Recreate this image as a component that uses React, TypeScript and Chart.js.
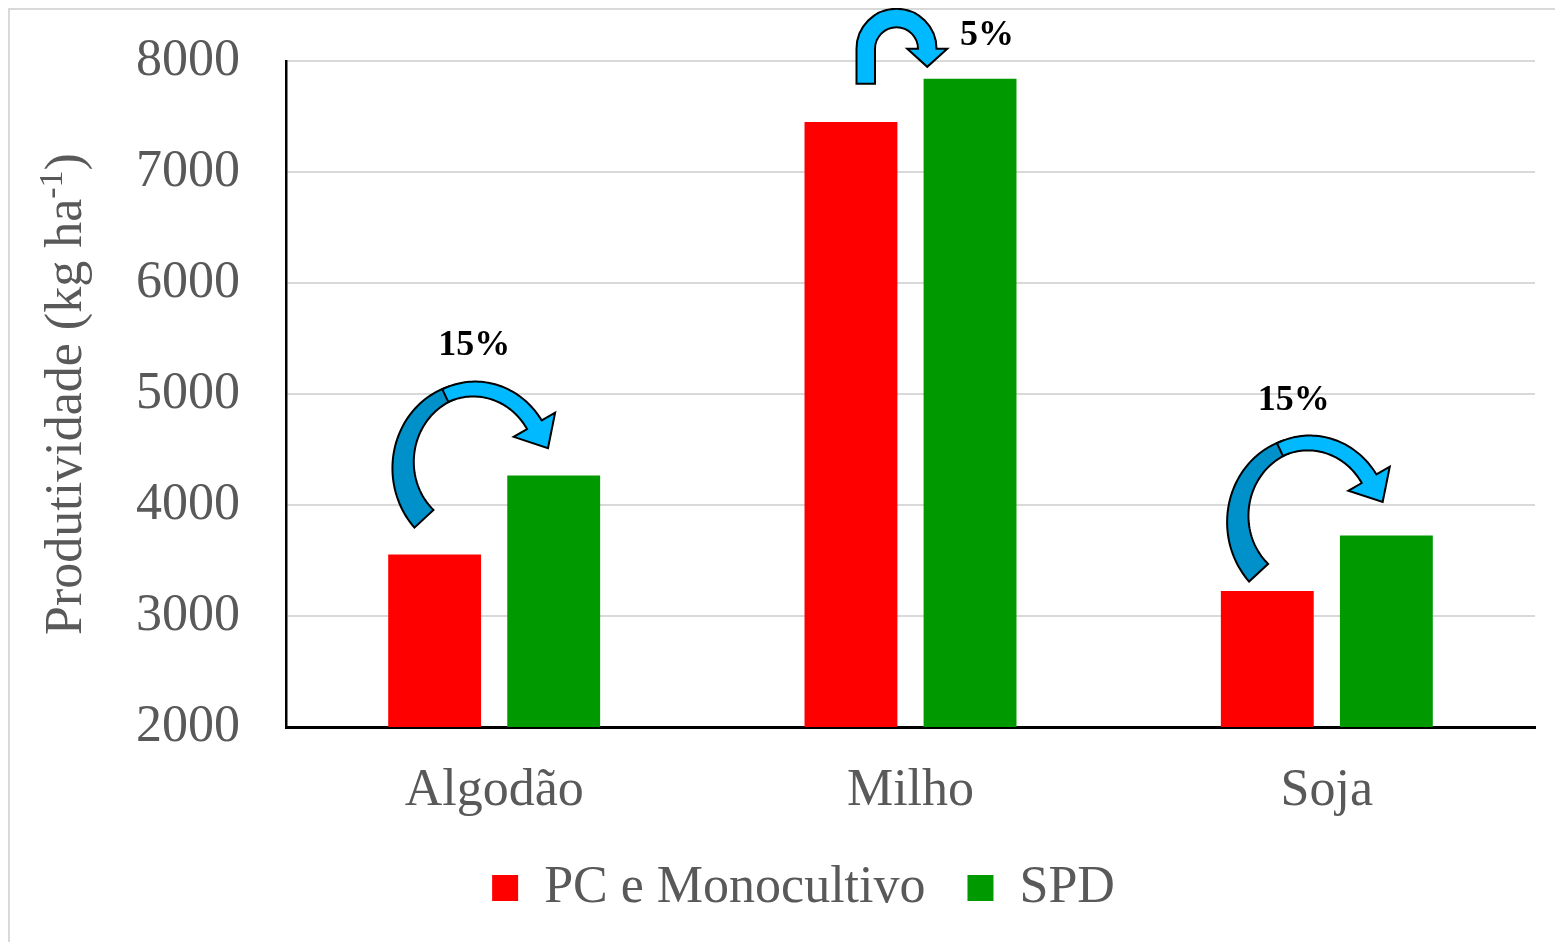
import React, { useEffect, useRef } from 'react';
import { Chart, registerables } from 'chart.js';

Chart.register(...registerables);

// ---- data ----
const categories = ['Algodão', 'Milho', 'Soja'];
const seriesNames = ['PC e Monocultivo', 'SPD'];
const pcMonocultivo = [3555, 7450, 3225];
const spd = [4265, 7840, 3725];
const yMin = 2000;
const yMax = 8000;
const yStep = 1000;
const gainLabels = ['15%', '5%', '15%'];
const yTitleMain = 'Produtividade (kg ha';
const yTitleSup = '-1';
const yTitleEnd = ')';

const FONT = "'Times New Roman', 'Liberation Serif', serif";
const GREY = '#595959';
const LIGHT_BLUE = '#00B9FF';
const DARK_BLUE = '#0090CA';
const deg = Math.PI / 180;

type P = { x: number; y: number };

function drawCurvedArrow(ctx: CanvasRenderingContext2D, cx: number, cy: number) {
  const rx = 71, ry = 76;
  const a0 = 135 * deg, am = 246 * deg, a1 = 328 * deg;
  const pt = (a: number): P => ({ x: cx + rx * Math.cos(a), y: cy + ry * Math.sin(a) });
  const nrm = (a: number): P => {
    const nx = Math.cos(a) / rx, ny = Math.sin(a) / ry;
    const l = Math.hypot(nx, ny);
    return { x: nx / l, y: ny / l };
  };
  const tan = (a: number): P => {
    const tx = -rx * Math.sin(a), ty = ry * Math.cos(a);
    const l = Math.hypot(tx, ty);
    return { x: tx / l, y: ty / l };
  };
  const band = (from: number, to: number, w0: number, w1: number) => {
    const outer: P[] = [], inner: P[] = [];
    const N = 48;
    for (let i = 0; i <= N; i++) {
      const a = from + ((to - from) * i) / N;
      const w = w0 + ((w1 - w0) * i) / N;
      const p = pt(a), n = nrm(a);
      outer.push({ x: p.x + (n.x * w) / 2, y: p.y + (n.y * w) / 2 });
      inner.push({ x: p.x - (n.x * w) / 2, y: p.y - (n.y * w) / 2 });
    }
    return { outer, inner };
  };
  ctx.save();
  ctx.lineWidth = 2;
  ctx.strokeStyle = '#000';
  ctx.lineJoin = 'miter';
  const d = band(a0, am + 5 * deg, 26, 14);
  ctx.beginPath();
  d.outer.forEach((p, i) => (i ? ctx.lineTo(p.x, p.y) : ctx.moveTo(p.x, p.y)));
  for (let i = d.inner.length - 1; i >= 0; i--) ctx.lineTo(d.inner[i].x, d.inner[i].y);
  ctx.closePath();
  ctx.fillStyle = DARK_BLUE;
  ctx.fill();
  ctx.stroke();
  const l = band(am, a1, 14, 17);
  const base = pt(a1), t = tan(a1), n = nrm(a1);
  const hw = 24, hl = 27;
  ctx.beginPath();
  l.outer.forEach((p, i) => (i ? ctx.lineTo(p.x, p.y) : ctx.moveTo(p.x, p.y)));
  ctx.lineTo(base.x + n.x * hw, base.y + n.y * hw);
  ctx.lineTo(base.x + t.x * hl, base.y + t.y * hl);
  ctx.lineTo(base.x - n.x * hw, base.y - n.y * hw);
  for (let i = l.inner.length - 1; i >= 0; i--) ctx.lineTo(l.inner[i].x, l.inner[i].y);
  ctx.closePath();
  ctx.fillStyle = LIGHT_BLUE;
  ctx.fill();
  ctx.stroke();
  ctx.restore();
}

function drawUTurn(ctx: CanvasRenderingContext2D, cx: number, cy: number) {
  const ro = 40, ri = 21.5;
  const legBottom = cy + 35;
  const hx = cx + (ro + ri) / 2;
  ctx.save();
  ctx.lineWidth = 2;
  ctx.strokeStyle = '#000';
  ctx.fillStyle = LIGHT_BLUE;
  ctx.beginPath();
  ctx.moveTo(cx - ro, legBottom);
  ctx.lineTo(cx - ro, cy);
  ctx.arc(cx, cy, ro, Math.PI, 2 * Math.PI, false);
  ctx.lineTo(hx + 20, cy);
  ctx.lineTo(hx, cy + 18);
  ctx.lineTo(hx - 20, cy);
  ctx.lineTo(cx + ri, cy);
  ctx.arc(cx, cy, ri, 0, Math.PI, true);
  ctx.lineTo(cx - ri, legBottom);
  ctx.closePath();
  ctx.fill();
  ctx.stroke();
  ctx.restore();
}

const annotationPlugin = {
  id: 'gainArrows',
  beforeDraw(chart: any) {
    const { ctx } = chart;
    ctx.save();
    ctx.strokeStyle = '#D9D9D9';
    ctx.lineWidth = 2;
    ctx.beginPath();
    ctx.moveTo(1, chart.height);
    ctx.lineTo(1, 1);
    ctx.lineTo(chart.width, 1);
    ctx.stroke();
    ctx.restore();
  },
  afterDatasetsDraw(chart: any) {
    const { ctx } = chart;
    const xs = chart.scales.x;
    const ys = chart.scales.y;
    const specs = [
      { kind: 'curve', dx: -20, yv: 4360, lx: -20, lyv: 5432 },
      { kind: 'uturn', dx: -14, yv: 8110, lx: 76.5, lyv: 8225 },
      { kind: 'curve', dx: -18, yv: 3874, lx: -33, lyv: 4937 },
    ];
    specs.forEach((s, i) => {
      const c = xs.getPixelForValue(i);
      const ax = c + s.dx;
      const ay = ys.getPixelForValue(s.yv);
      if (s.kind === 'curve') drawCurvedArrow(ctx, ax, ay);
      else drawUTurn(ctx, ax, ay);
      ctx.save();
      ctx.font = `bold 36px ${FONT}`;
      ctx.fillStyle = '#000';
      ctx.textAlign = 'center';
      ctx.textBaseline = 'middle';
      ctx.fillText(gainLabels[i], c + s.lx, ys.getPixelForValue(s.lyv));
      ctx.restore();
    });
  },
  afterDraw(chart: any) {
    const { ctx, chartArea } = chart;
    const cy = (chartArea.top + chartArea.bottom) / 2;
    const big = `52px ${FONT}`;
    const small = `34px ${FONT}`;
    ctx.save();
    ctx.font = big;
    const w1 = ctx.measureText(yTitleMain).width;
    const w3 = ctx.measureText(yTitleEnd).width;
    ctx.font = small;
    const w2 = ctx.measureText(yTitleSup).width;
    const total = w1 + w2 + w3;
    ctx.translate(73, cy);
    ctx.rotate(-Math.PI / 2);
    ctx.fillStyle = GREY;
    ctx.textAlign = 'left';
    ctx.textBaseline = 'alphabetic';
    let x = -total / 2;
    ctx.font = big;
    ctx.fillText(yTitleMain, x, 0);
    x += w1;
    ctx.font = small;
    ctx.fillText(yTitleSup, x, -19);
    x += w2;
    ctx.font = big;
    ctx.fillText(yTitleEnd, x, 0);
    ctx.restore();
  },
};

export default function App() {
  const ref = useRef<HTMLCanvasElement>(null);
  useEffect(() => {
    if (!ref.current) return;
    const chart = new Chart(ref.current, {
      type: 'bar',
      data: {
        labels: categories,
        datasets: [
          { label: seriesNames[0], data: pcMonocultivo, backgroundColor: '#FF0000', borderWidth: 0 },
          { label: seriesNames[1], data: spd, backgroundColor: '#009900', borderWidth: 0 },
        ],
      },
      options: {
        responsive: true,
        maintainAspectRatio: false,
        animation: false,
        categoryPercentage: 0.572,
        barPercentage: 0.78,
        layout: { padding: { left: 64, right: 20, top: 53, bottom: 18 } },
        plugins: {
          legend: {
            position: 'bottom',
            labels: {
              boxWidth: 26,
              boxHeight: 26,
              padding: 42,
              color: GREY,
              font: { family: FONT, size: 52 },
            },
          },
          tooltip: { enabled: false },
        },
        scales: {
          x: {
            grid: { drawOnChartArea: false, drawTicks: false },
            border: { color: '#000', width: 3 },
            ticks: { color: GREY, font: { family: FONT, size: 52 }, padding: 33 },
            afterFit: (s: any) => {
              s.height = 93;
            },
          },
          y: {
            min: yMin,
            max: yMax,
            ticks: {
              stepSize: yStep,
              color: GREY,
              font: { family: FONT, size: 52 },
              padding: 46,
              callback: (v: any) => String(v),
            },
            grid: { color: '#D9D9D9', lineWidth: 2, drawTicks: false },
            border: { color: '#000', width: 2.5 },
            afterFit: (s: any) => {
              s.width = 214;
              s.paddingTop = 0;
              s.paddingBottom = 0;
            },
          },
        },
      } as any,
      plugins: [annotationPlugin],
    });
    return () => chart.destroy();
  }, []);
  return (
    <div style={{ width: 1547, height: 934, position: 'relative' }}>
      <canvas ref={ref} />
    </div>
  );
}
